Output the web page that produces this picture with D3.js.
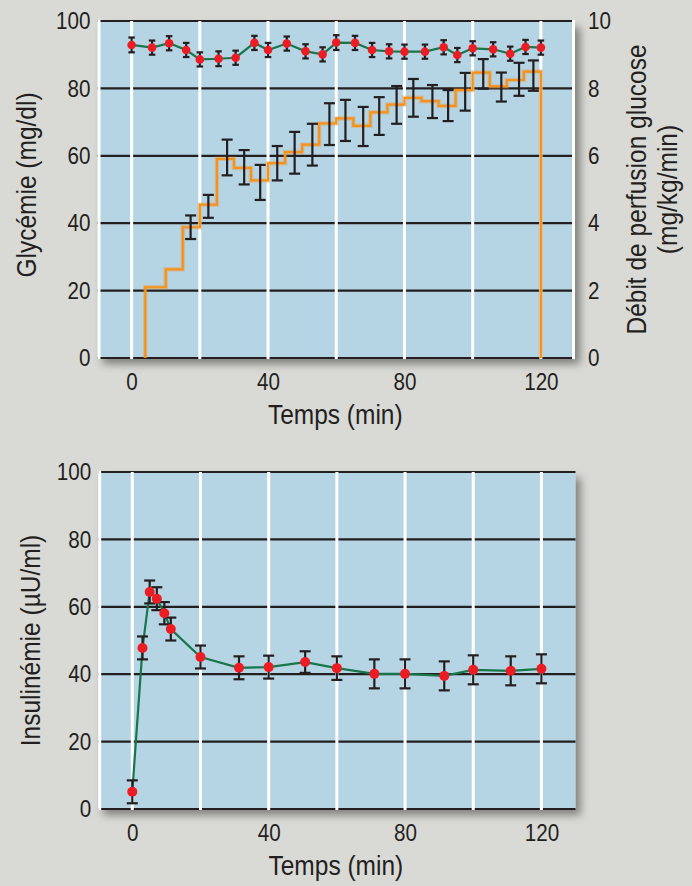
<!DOCTYPE html>
<html>
<head>
<meta charset="utf-8">
<script src="https://cdn.jsdelivr.net/npm/d3@7"></script>
<style>
  html, body { margin: 0; padding: 0; background: #d9dad5; }
  svg text { font-family: "Liberation Sans", Arial, sans-serif; fill: #231f20; }
</style>
</head>
<body>
<svg id="fig" width="692" height="886"></svg>
<script>
// ---- Glycémie (mg/dl), moyenne ± erreur ----
const glyTime  = [0, 6, 11, 16, 20, 25.5, 30.5, 36, 40, 45.5, 51, 56, 60, 65.5, 70.5, 75.5, 80, 86, 91.5, 95.5, 100, 106, 111, 115.5, 120];
const glyValue = [92.9, 92.1, 93.4, 91.4, 88.6, 88.8, 89.1, 93.5, 91.4, 93.3, 91.0, 90.1, 93.6, 93.5, 91.4, 91.0, 90.9, 90.9, 92.2, 89.9, 91.9, 91.6, 90.3, 92.3, 92.1];
const glyErr   = [2.2, 2.1, 2.1, 2.1, 2.1, 2.2, 2.1, 2.1, 2.1, 2.1, 2.1, 2.1, 2.2, 2.1, 2.1, 2.1, 2.1, 2.1, 2.1, 2.1, 2.1, 2.1, 2.1, 2.1, 2.1];

// ---- Débit de perfusion de glucose (mg/kg/min), paliers ----
const perfStart = [4, 10, 15, 20, 25, 30, 35, 40, 45, 50, 55, 60, 65, 70, 75, 80, 85, 90, 95, 100, 105, 110, 115];
const perfRate  = [2.1, 2.63, 3.88, 4.55, 5.91, 5.64, 5.27, 5.78, 6.11, 6.33, 6.96, 7.11, 6.89, 7.29, 7.52, 7.72, 7.62, 7.48, 7.95, 8.47, 8.06, 8.25, 8.50];
const perfEnd   = 120;
const perfErrTime = [17.3, 22.5, 28, 33, 37.7, 42.7, 47.8, 53, 58, 62.7, 67.9, 72.6, 77.7, 82.6, 88.2, 92.8, 97.8, 103.1, 108.4, 113.6, 117.8];
const perfErrMean = [3.88, 4.50, 5.95, 5.66, 5.21, 5.78, 6.09, 6.33, 6.94, 7.05, 6.87, 7.18, 7.51, 7.72, 7.61, 7.49, 7.90, 8.43, 8.04, 8.27, 8.38];
const perfErrSd   = [0.35, 0.34, 0.53, 0.51, 0.52, 0.51, 0.62, 0.62, 0.62, 0.61, 0.58, 0.56, 0.56, 0.56, 0.49, 0.46, 0.56, 0.44, 0.43, 0.49, 0.45];

// ---- Insulinémie (µU/ml) ----
const insTime  = [0, 3, 5.1, 7.2, 9.4, 11.3, 20, 31.3, 40, 50.7, 60, 71, 80, 91.5, 100, 111, 120];
const insValue = [5.1, 47.8, 64.4, 62.4, 58.1, 53.4, 45.1, 41.9, 42.1, 43.6, 41.8, 40.1, 40.1, 39.5, 41.3, 41.0, 41.6];
const insErr   = [3.4, 3.4, 3.4, 3.4, 3.3, 3.4, 3.4, 3.4, 3.4, 3.2, 3.5, 4.3, 4.3, 4.3, 4.3, 4.3, 4.3];

// ---- Axes ----
const xTickLabels = [0, 40, 80, 120];
const xGrid       = [0, 20, 40, 60, 80, 100, 120];
const yTickLabels = [0, 20, 40, 60, 80, 100];
const y2TickLabels = [0, 2, 4, 6, 8, 10];

const COLORS = {
  panel: "#b5d4e4",
  grid: "#231f20",
  vgrid: "#ffffff",
  green: "#17764a",
  red: "#ec1c24",
  orange: "#f5921e",
  bar: "#231f20"
};

// condensed lettering: horizontal squeeze applied to each text
const SQUEEZE = 0.86;
const TICK_FS = 24;
const TITLE_FS = 28.5;

const svg = d3.select("#fig");

// drop shadow under each panel
const defs = svg.append("defs");
const shadow = defs.append("filter").attr("id", "panelShadow")
  .attr("x", "-5%").attr("y", "-5%").attr("width", "115%").attr("height", "115%");
shadow.append("feDropShadow")
  .attr("dx", 5).attr("dy", 6).attr("stdDeviation", 4)
  .attr("flood-color", "#000").attr("flood-opacity", 0.42);

function styleTicks(axisG) {
  axisG.select(".domain").remove();
  axisG.selectAll("text")
    .attr("font-size", TICK_FS).attr("font-family", null)
    .attr("transform", `scale(${SQUEEZE},1)`);
}

function title(g, x, y, rotate, txt) {
  g.append("text")
    .attr("transform", `translate(${x},${y})${rotate ? " rotate(-90)" : ""} scale(${SQUEEZE},1)`)
    .attr("text-anchor", "middle").attr("font-size", TITLE_FS)
    .text(txt);
}

function panel(opts) {
  const { x, y, top, bottom, left, right, rightBorder } = opts;
  const g = svg.append("g");

  g.append("rect")
    .attr("x", left).attr("y", top)
    .attr("width", right - left).attr("height", bottom - top)
    .attr("fill", COLORS.panel)
    .attr("filter", "url(#panelShadow)");

  // horizontal black grid
  g.append("g").selectAll("line").data(yTickLabels).join("line")
    .attr("x1", left).attr("x2", right)
    .attr("y1", d => y(d)).attr("y2", d => y(d))
    .attr("stroke", COLORS.grid).attr("stroke-width", 2.2);

  // vertical white grid
  g.append("g").selectAll("line").data(xGrid).join("line")
    .attr("x1", d => x(d)).attr("x2", d => x(d))
    .attr("y1", top).attr("y2", bottom + 1.1)
    .attr("stroke", COLORS.vgrid).attr("stroke-width", 3);

  // white left border (and right one when asked)
  g.append("rect").attr("x", left).attr("y", top - 1.1)
    .attr("width", 3).attr("height", bottom - top + 2.2).attr("fill", "#fff");
  if (rightBorder) {
    g.append("rect").attr("x", right - 3).attr("y", top - 1.1)
      .attr("width", 3).attr("height", bottom - top + 2.2).attr("fill", "#fff");
  }

  // x axis labels
  const ax = g.append("g").attr("transform", `translate(0,${bottom})`)
    .call(d3.axisBottom(x).tickValues(xTickLabels).tickSize(0).tickPadding(15));
  styleTicks(ax);

  // y axis labels (padding divided by the squeeze so it lands at 7px)
  const ay = g.append("g").attr("transform", `translate(${left},0)`)
    .call(d3.axisLeft(y).tickValues(yTickLabels).tickSize(0).tickPadding(7 / SQUEEZE));
  styleTicks(ay);

  // x title
  title(g, (left + right) / 2 - 1, bottom + 66, false, "Temps (min)");
  return g;
}

function errorBars(g, xs, ys, es, x, y, cap, cls) {
  const data = xs.map((t, i) => ({ t, v: ys[i], e: es[i] }));
  const eg = g.append("g").attr("class", cls)
    .attr("stroke", COLORS.bar).attr("stroke-width", 2.2).attr("fill", "none");
  eg.selectAll("line.v").data(data).join("line").attr("class", "v")
    .attr("x1", d => x(d.t)).attr("x2", d => x(d.t))
    .attr("y1", d => y(d.v + d.e)).attr("y2", d => y(d.v - d.e));
  eg.selectAll("line.t").data(data).join("line").attr("class", "t")
    .attr("x1", d => x(d.t) - cap / 2).attr("x2", d => x(d.t) + cap / 2)
    .attr("y1", d => y(d.v + d.e)).attr("y2", d => y(d.v + d.e));
  eg.selectAll("line.b").data(data).join("line").attr("class", "b")
    .attr("x1", d => x(d.t) - cap / 2).attr("x2", d => x(d.t) + cap / 2)
    .attr("y1", d => y(d.v - d.e)).attr("y2", d => y(d.v - d.e));
}

function meanLine(g, xs, ys, x, y) {
  const pts = xs.map((t, i) => [t, ys[i]]);
  g.append("path")
    .attr("d", d3.line().x(d => x(d[0])).y(d => y(d[1]))(pts))
    .attr("fill", "none").attr("stroke", COLORS.green).attr("stroke-width", 2.2);
  return pts;
}

// ================= Panel 1: glycémie + débit de perfusion =================
const x1 = d3.scaleLinear().domain([-10, 130]).range([97.5, 575]);
const y1 = d3.scaleLinear().domain([0, 100]).range([358, 21]);
const y1r = d3.scaleLinear().domain([0, 10]).range([358, 21]);

const p1 = panel({ x: x1, y: y1, top: 21, bottom: 358, left: 97.5, right: 575, rightBorder: true });

// step line of glucose infusion rate
const stepPts = [[perfStart[0], 0]]
  .concat(perfStart.map((s, i) => [s, perfRate[i]]))
  .concat([[perfEnd, 0]]);
const stepPath = d3.line().x(d => x1(d[0])).y(d => y1r(d[1])).curve(d3.curveStepAfter)(stepPts);
p1.append("path").attr("d", stepPath).attr("fill", "none")
  .attr("stroke", COLORS.orange).attr("stroke-opacity", 0.35).attr("stroke-width", 4.5);
p1.append("path").attr("d", stepPath).attr("fill", "none")
  .attr("stroke", COLORS.orange).attr("stroke-width", 2.2);
errorBars(p1, perfErrTime, perfErrMean, perfErrSd, x1, y1r, 11, "perf-err");

// glycaemia
const glyPts = meanLine(p1, glyTime, glyValue, x1, y1);
errorBars(p1, glyTime, glyValue, glyErr, x1, y1, 6.5, "gly-err");
p1.append("g").selectAll("circle").data(glyPts).join("circle")
  .attr("cx", d => x1(d[0])).attr("cy", d => y1(d[1])).attr("r", 4.3)
  .attr("fill", COLORS.red);

// right axis
const ar = p1.append("g").attr("transform", "translate(575,0)")
  .call(d3.axisRight(y1r).tickValues(y2TickLabels).tickSize(0).tickPadding(13 / SQUEEZE));
styleTicks(ar);

// axis titles
title(p1, 36, 185, true, "Glycémie (mg/dl)");
title(p1, 646, 189.5, true, "Débit de perfusion glucose");
title(p1, 677, 189.5, true, "(mg/kg/min)");

// ================= Panel 2: insulinémie =================
const x2 = d3.scaleLinear().domain([-10, 130]).range([98.2, 575.5]);
const y2 = d3.scaleLinear().domain([0, 100]).range([809, 472]);

const p2 = panel({ x: x2, y: y2, top: 472, bottom: 809, left: 98.2, right: 575.5, rightBorder: false });
const insPts = meanLine(p2, insTime, insValue, x2, y2);
errorBars(p2, insTime, insValue, insErr, x2, y2, 11, "ins-err");
p2.append("g").selectAll("circle").data(insPts).join("circle")
  .attr("cx", d => x2(d[0])).attr("cy", d => y2(d[1])).attr("r", 5)
  .attr("fill", COLORS.red);

title(p2, 40, 640.5, true, "Insulinémie (µU/ml)");
</script>
</body>
</html>
